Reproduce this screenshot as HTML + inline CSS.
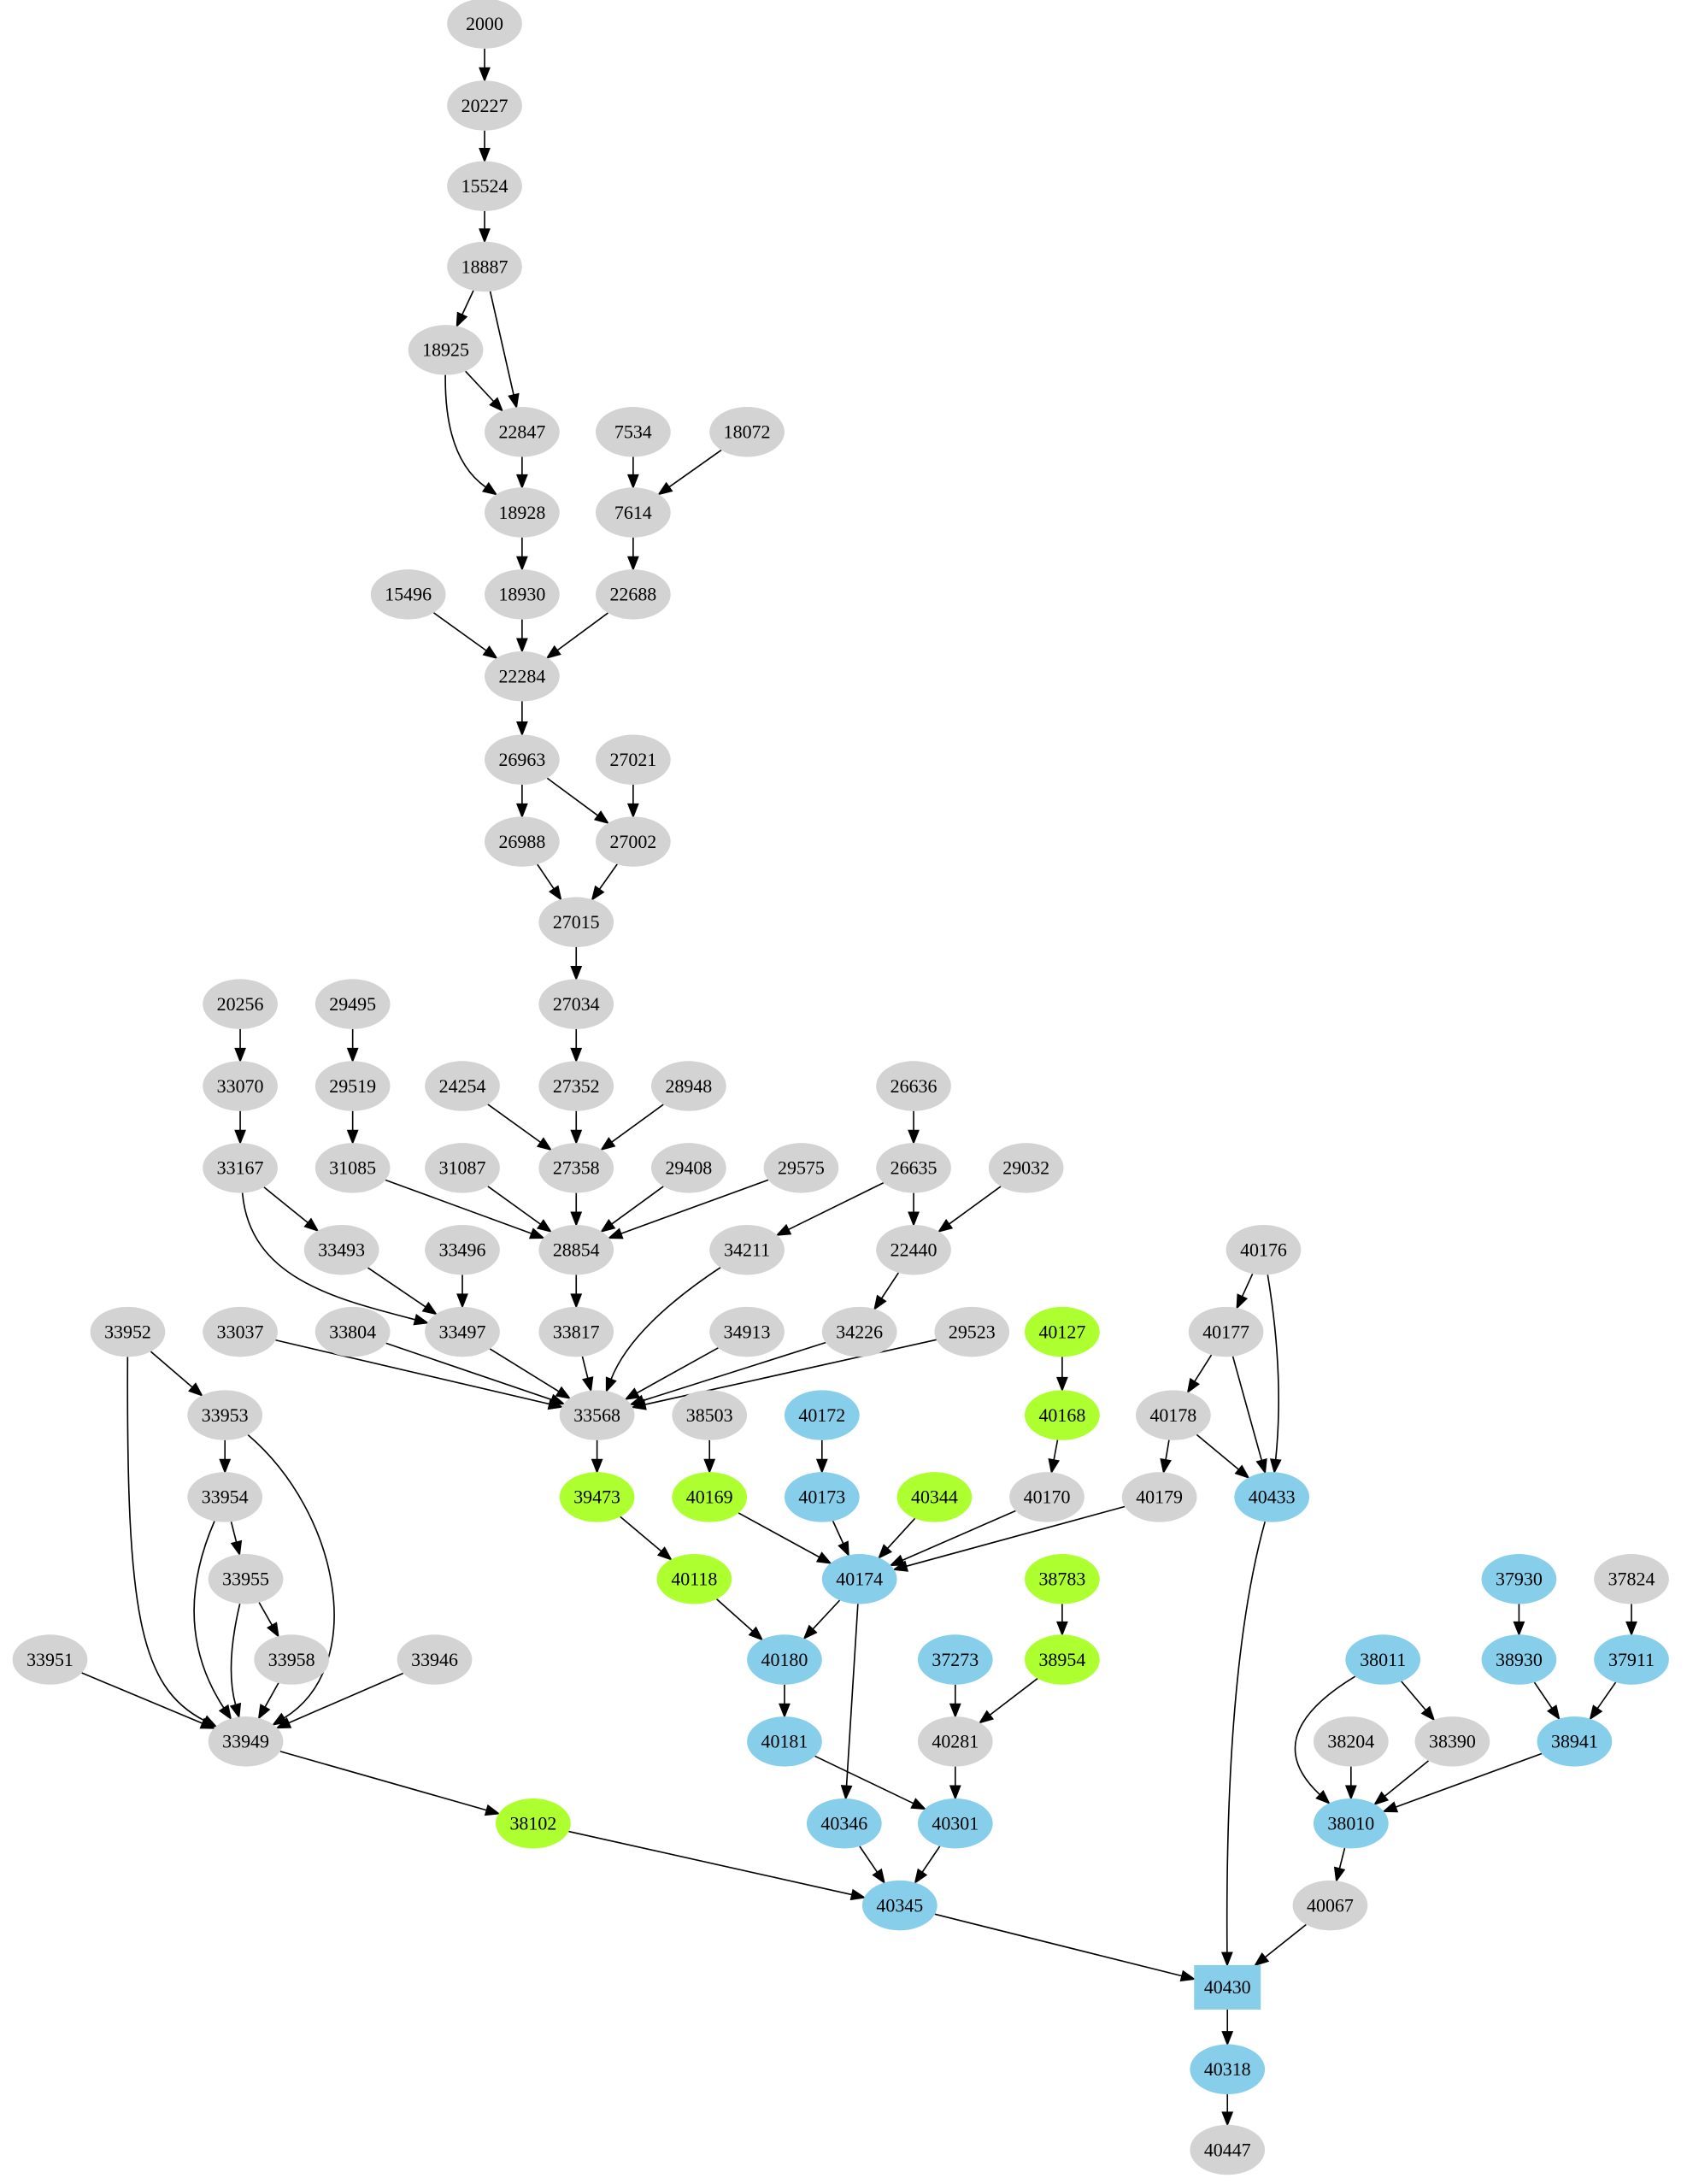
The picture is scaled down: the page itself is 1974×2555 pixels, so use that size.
<!DOCTYPE html>
<html><head><meta charset="utf-8"><style>html,body{margin:0;padding:0;background:#fff}svg{display:block}</style></head>
<body>
<svg id="g" width="1974" height="2555" viewBox="0 0 1215 1572.6" xmlns="http://www.w3.org/2000/svg" font-family="Liberation Serif, serif" font-size="13.5"></svg>
<script>
const G='#d3d3d3',B='#87ceeb',N='#adff2f';
const nodes={
'2000':[349,17,G],'20227':[349,76,G],'15524':[349,134,G],'18887':[349,192,G],'18925':[321,252,G],
'22847':[376,311,G],'7534':[456,311,G],'18072':[538,311,G],'18928':[376,369,G],'7614':[456,369,G],
'15496':[294,428,G],'18930':[376,428,G],'22688':[456,428,G],'22284':[376,487,G],'26963':[376,547,G],
'27021':[456,547,G],'26988':[376,606,G],'27002':[456,606,G],'27015':[415,664,G],'20256':[173,723,G],
'29495':[254,723,G],'27034':[415,723,G],'33070':[173,782,G],'29519':[254,782,G],'24254':[333,782,G],
'27352':[415,782,G],'28948':[496,782,G],'26636':[658,782,G],'33167':[173,841,G],'31085':[254,841,G],
'31087':[333,841,G],'27358':[415,841,G],'29408':[496,841,G],'29575':[577,841,G],'26635':[658,841,G],
'29032':[739,841,G],'33493':[246,900,G],'33496':[333,900,G],'28854':[415,900,G],'34211':[538,900,G],
'22440':[658,900,G],'40176':[910,900,G],'33952':[92,959,G],'33037':[173,959,G],'33804':[254,959,G],
'33497':[333,959,G],'33817':[415,959,G],'34913':[538,959,G],'34226':[619,959,G],'29523':[700,959,G],
'40127':[765,959,N],'40177':[883,959,G],'33953':[162,1019,G],'33568':[430,1019,G],'38503':[511,1019,G],
'40172':[592,1019,B],'40168':[765,1019,N],'40178':[845,1019,G],'33954':[162,1078,G],'39473':[430,1078,N],
'40169':[511,1078,N],'40173':[592,1078,B],'40344':[673,1078,N],'40170':[754,1078,G],'40179':[835,1078,G],
'40433':[916,1078,B],'33955':[177,1137,G],'40118':[500,1137,N],'40174':[619,1137,B],'38783':[765,1137,N],
'37930':[1094,1137,B],'37824':[1175,1137,G],'33951':[36,1195,G],'33958':[210,1195,G],'33946':[313,1195,G],
'40180':[565,1195,B],'37273':[688,1195,B],'38954':[765,1195,N],'38011':[996,1195,B],'38930':[1094,1195,B],
'37911':[1175,1195,B],'33949':[177,1254,G],'40181':[565,1254,B],'40281':[688,1254,G],'38204':[973,1254,G],
'38390':[1046,1254,G],'38941':[1134,1254,B],'38102':[384,1313,N],'40346':[608,1313,B],'40301':[688,1313,B],
'38010':[973,1313,B],'40345':[648,1372,B],'40067':[958,1372,G],'40430':[884,1431,B,'box'],'40318':[884,1490,B],
'40447':[884,1548,G]};
const E=`2000-20227 20227-15524 15524-18887 18887-18925 18887-22847 18925-22847 18925-18928:320,330 22847-18928 7534-7614 18072-7614 18928-18930 7614-22688 15496-22284 18930-22284 22688-22284 22284-26963 26963-26988 26963-27002 27021-27002 26988-27015 27002-27015 27015-27034 27034-27352 20256-33070 29495-29519 33070-33167 29519-31085 24254-27358 27352-27358 28948-27358 26636-26635 33167-33493 33167-33497:180,920,240,935 31085-28854 31087-28854 27358-28854 29408-28854 29575-28854 26635-34211 26635-22440 29032-22440 33493-33497 33496-33497 28854-33817 34211-33568:455,955 22440-34226 40176-40177 40176-40433:925,990 33952-33953 33952-33949:91,1160,100,1215 33037-33568 33804-33568 33497-33568 33817-33568 34913-33568 34226-33568 29523-33568 40127-40168 40177-40178 40177-40433 33953-33954 33953-33949:245,1090,265,1200 33568-39473 38503-40169 40172-40173 40168-40170 40178-40179 40178-40433 33954-33955 33954-33949:122,1170 39473-40118 40169-40174 40173-40174 40344-40174 40170-40174 40179-40174 40433-40430:882,1200 33955-33958 33955-33949:162,1200 40118-40180 40174-40180 40174-40346 38783-38954 37930-38930 37824-37911 33951-33949 33958-33949 33946-33949 40180-40181 37273-40281 38954-40281 38011-38390 38011-38010:905,1250 38930-38941 37911-38941 33949-38102 40181-40301 40281-40301 38204-38010 38390-38010 38941-38010 38102-40345 40346-40345 40301-40345 38010-40067 40345-40430 40067-40430 40430-40318 40318-40447`.split(/\s+/);
const RX=27,RY=18;
function edge(n,dx,dy){const d=Math.hypot(dx,dy);dx/=d;dy/=d;
 if(n[3]==='box'){const hw=24,hh=16;const t=Math.min(Math.abs(dx)>1e-6?hw/Math.abs(dx):1e9,Math.abs(dy)>1e-6?hh/Math.abs(dy):1e9);return [n[0]+dx*t,n[1]+dy*t];}
 const t=1/Math.sqrt((dx*dx)/(RX*RX)+(dy*dy)/(RY*RY));return [n[0]+dx*t,n[1]+dy*t];}
let s='';
for(const e of E){let [p,c]=e.split(':');let [a,b]=p.split('-');const A=nodes[a],Bn=nodes[b];
 let cp=c?c.split(',').map(Number):null;
 const c1=cp?[cp[0],cp[1]]:null, c2=cp?(cp.length>2?[cp[2],cp[3]]:c1):null;
 const s0=cp?edge(A,c1[0]-A[0],c1[1]-A[1]):edge(A,Bn[0]-A[0],Bn[1]-A[1]);
 const dir=cp?[Bn[0]-c2[0],Bn[1]-c2[1]]:[Bn[0]-A[0],Bn[1]-A[1]];
 const tip=edge(Bn,-dir[0],-dir[1]);
 const L=Math.hypot(dir[0],dir[1]);const ux=dir[0]/L,uy=dir[1]/L;
 const base=[tip[0]-ux*9,tip[1]-uy*9];
 if(cp&&cp.length>2)s+=`<path d="M${s0[0]},${s0[1]} C${c1[0]},${c1[1]} ${c2[0]},${c2[1]} ${base[0]},${base[1]}" fill="none" stroke="#000" stroke-width="1"/>`;
 else if(cp)s+=`<path d="M${s0[0]},${s0[1]} Q${c1[0]},${c1[1]} ${base[0]},${base[1]}" fill="none" stroke="#000" stroke-width="1"/>`;
 else s+=`<line x1="${s0[0]}" y1="${s0[1]}" x2="${base[0]}" y2="${base[1]}" stroke="#000" stroke-width="1"/>`;
 const px=-uy*3.5,py=ux*3.5;
 s+=`<polygon points="${tip[0]},${tip[1]} ${base[0]+px},${base[1]+py} ${base[0]-px},${base[1]-py}" fill="#000" stroke="#000"/>`;
}
for(const k in nodes){const n=nodes[k];
 if(n[3]==='box')s+=`<rect x="${n[0]-24}" y="${n[1]-16}" width="48" height="32" fill="${n[2]}"/>`;
 else s+=`<ellipse cx="${n[0]}" cy="${n[1]}" rx="${RX}" ry="${RY}" fill="${n[2]}"/>`;
 s+=`<text x="${n[0]}" y="${n[1]+4.5}" text-anchor="middle">${k}</text>`;}
document.getElementById('g').innerHTML=s;
</script>
</body></html>
